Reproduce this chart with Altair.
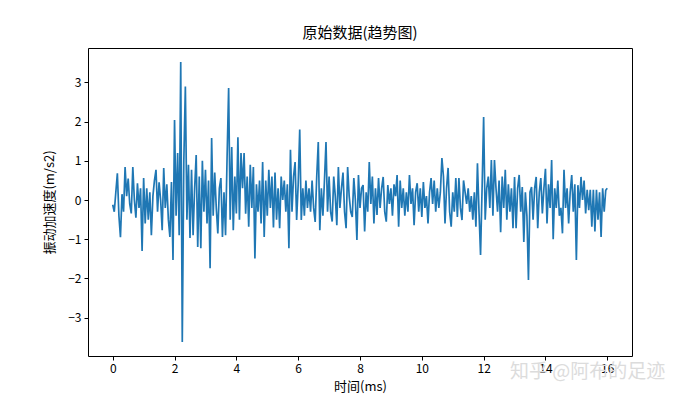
import altair as alt
import pandas as pd

TITLE = "原始数据(趋势图)"
X_TITLE = "时间(ms)"
Y_TITLE = "振动加速度(m/s2)"
WATERMARK = "知乎 @阿布的足迹"
STEP_MS = 0.05

seg_0_4 = [
    -0.12, -0.30, 0.20, 0.68, -0.40, -0.95, 0.15, -0.30, 0.84, 0.10,
    0.55, -0.10, -0.34, 0.84, 0.00, -0.45, 0.43, -0.20, 0.30, -1.30,
    0.56, -0.60, 0.30, -0.50, 0.20, -0.90, 0.10, 0.50, 0.77, -0.30,
    0.45, 0.00, -0.77, 0.82, -0.20, 0.40, -0.50, -0.94, 0.46, -1.53,
    2.04, -0.40, 1.20, -0.90, 3.52, -3.62, 1.00, 2.90, -0.50, 0.90,
    -0.97, 0.77, -0.90, 0.30, 1.15, -1.20, 0.60, -1.23, 1.00, -0.30,
    0.77, -0.60, 0.50, -1.74, 1.58, -0.40, 0.70, -0.20, -0.85, 0.30,
    0.56, -0.94, 0.20, -0.90, 1.10, 2.86, -0.50, 1.35, -0.77, 0.60,
]
seg_4_8 = [
    -0.34, 1.60, -0.50, 1.20, 0.30, 1.20, -0.35, 0.60, -0.68, 0.90,
    -0.20, 0.84, -1.49, 0.40, -0.30, 0.50, -0.60, 0.97, -0.94, 0.50,
    -0.40, 0.77, -0.20, 0.60, -0.70, 0.70, -0.50, 0.30, -0.72, 0.60,
    0.00, 0.50, -0.30, 0.40, -1.23, 1.28, -0.30, 0.60, 0.97, -0.51,
    0.40, 1.80, -0.51, 0.30, -0.40, 0.50, -0.20, 0.30, -0.30, 0.50,
    -0.20, -0.56, 0.60, 1.48, -0.77, 0.30, -0.40, 0.50, 1.48, -0.30,
    0.60, -0.30, -0.55, 0.60, 0.10, -0.64, 0.84, -0.20, 0.30, 0.70,
    -0.30, -0.72, 0.84, 0.10, -0.30, -0.43, 0.56, 0.00, -1.02, 0.64,
]
seg_8_12 = [
    -0.20, 0.30, 0.38, -0.80, 0.20, -0.30, 0.97, -0.10, 0.60, -0.60,
    0.30, -0.38, 0.56, -0.20, 0.30, 0.59, -0.30, -0.55, 0.38, -0.10,
    0.30, -0.40, 0.40, 0.10, 0.64, -0.68, 0.50, -0.20, 0.30, -0.40,
    0.20, -0.30, 0.64, -0.10, 0.30, -0.64, 0.20, 0.43, -0.30, 0.30,
    -0.43, 0.46, -0.20, 0.10, -0.60, 0.20, 0.56, -0.10, 0.50, -0.30,
    0.30, -0.20, 0.20, 1.07, 0.60, -0.60, 0.30, 0.82, -0.30, -0.68,
    0.20, -0.30, 0.56, -0.43, 0.56, -0.20, -0.51, 0.50, 0.20, -0.10,
    0.30, -0.30, 0.10, -0.50, 0.20, -0.68, 0.94, -0.30, -1.40, 0.30,
]
seg_12_16 = [
    2.12, -0.50, 0.30, 0.60, -0.20, 1.02, -0.40, 1.02, 0.30, -0.30,
    0.50, -0.82, 0.60, -0.20, 0.77, -0.50, 0.40, -0.30, 0.30, -0.72,
    0.59, -0.72, 0.30, 0.64, -0.30, 0.33, -1.07, 0.20, -0.40, -2.04,
    0.20, 0.33, -0.50, 0.30, 0.59, -0.72, 0.20, 0.56, -0.34, 0.30,
    0.80, -0.60, 0.40, -0.20, 1.02, -1.00, 0.30, -0.20, 0.50, -0.40,
    -0.20, -0.85, 0.77, -0.20, 0.30, -0.60, 0.20, 0.64, -0.30, 0.40,
    -1.53, 0.38, -0.20, 0.59, 0.00, 0.50, -0.34, 0.26, -0.26, 0.26,
    -0.68, 0.26, -0.80, 0.26, -0.50, 0.20, -0.94, 0.30, -0.30, 0.25,
    0.30,
]

values = seg_0_4 + seg_4_8 + seg_8_12 + seg_12_16
times = [round(i * STEP_MS, 2) for i in range(len(values))]
df = pd.DataFrame({"time": times, "acc": values})

FONT = "Noto Sans CJK SC"

line = alt.Chart(df).mark_line(color="#1f77b4", strokeWidth=1.7).encode(
    x=alt.X(
        "time:Q",
        scale=alt.Scale(domain=[-0.8, 16.8], nice=False, zero=False),
        axis=alt.Axis(values=list(range(0, 17, 2)), title=X_TITLE, titlePadding=6),
    ),
    y=alt.Y(
        "acc:Q",
        scale=alt.Scale(domain=[-3.98, 3.88], nice=False, zero=False),
        axis=alt.Axis(values=[-3, -2, -1, 0, 1, 2, 3], title=Y_TITLE, titlePadding=11),
    ),
)

wm = alt.Chart(pd.DataFrame({"t": [WATERMARK]})).mark_text(
    font=FONT, fontSize=19, color="#dcdcdc", align="left", baseline="middle"
).encode(text="t:N", x=alt.value(422), y=alt.value(324))

chart = (
    alt.layer(line, wm)
    .properties(
        width=544,
        height=308,
        title=alt.TitleParams(TITLE, font=FONT, fontSize=15, fontWeight="normal", color="black", offset=7),
        autosize=alt.AutoSizeParams(type="none"),
        padding={"left": 80, "top": 40, "right": 60, "bottom": 42},
    )
    .configure_view(stroke="black", strokeWidth=1)
    .configure_axis(
        grid=False,
        domain=False,
        tickColor="black",
        tickSize=4,
        labelColor="black",
        labelFont=FONT,
        labelFontSize=12,
        labelPadding=3,
        titleFont=FONT,
        titleFontSize=13,
        titleFontWeight="normal",
        titleColor="black",
    )
)

chart.save("out.html", embed_options={"renderer": "svg", "actions": False})
